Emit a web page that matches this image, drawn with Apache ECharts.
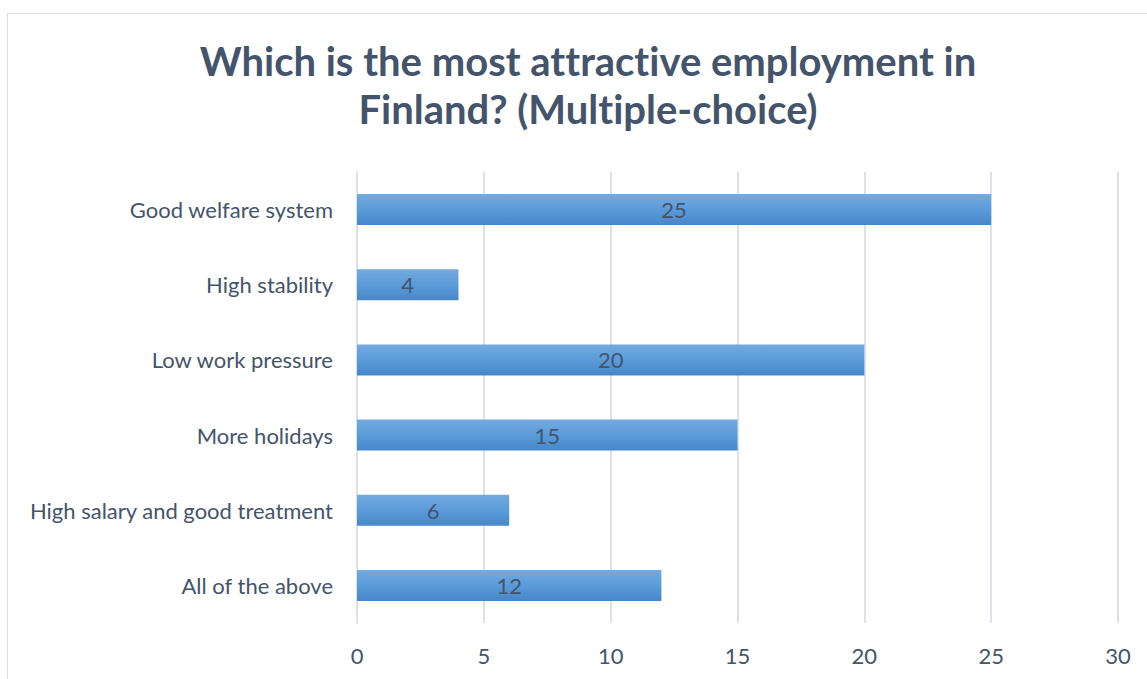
<!DOCTYPE html>
<html>
<head>
<meta charset="utf-8">
<script src="https://cdn.jsdelivr.net/npm/echarts@6/dist/echarts.min.js"></script>
<style>
  html, body { margin: 0; padding: 0; background: #ffffff; }
  #frame { position: absolute; left: 7px; top: 13px; width: 1160px; height: 700px; border: 1.5px solid #d9dee5; box-sizing: border-box; }
  #chart { position: absolute; left: 0; top: 0; width: 1147px; height: 679px; }
  #chart text { font-variant-ligatures: none; font-feature-settings: "liga" 0, "clig" 0; }
</style>
</head>
<body>
<div id="frame"></div>
<div id="chart"></div>
<script>
// Survey answers, listed bottom to top as the category axis draws them
const categories = [
  'All of the above',
  'High salary and good treatment',
  'More holidays',
  'Low work pressure',
  'High stability',
  'Good welfare system'
];
const counts = [12, 6, 15, 20, 4, 25];
const titleText = 'Which is the most attractive employment in\nFinland? (Multiple-choice)';

const textColor = '#44546a';
const font = 'Lato, "Open Sans", sans-serif';

const chart = echarts.init(document.getElementById('chart'), null, { renderer: 'svg' });
chart.setOption({
  backgroundColor: 'transparent',
  animation: false,
  title: {
    text: titleText,
    left: 583,
    top: 32,
    textAlign: 'center',
    textStyle: {
      fontFamily: font,
      fontWeight: 'bold',
      fontSize: 40,
      lineHeight: 48,
      color: textColor
    }
  },
  grid: { left: 357, right: 29, top: 172, bottom: 56, containLabel: false },
  xAxis: {
    type: 'value',
    min: 0,
    max: 30,
    interval: 5,
    axisLine: { show: false },
    axisTick: { show: false },
    axisLabel: { color: textColor, fontFamily: font, fontSize: 22, margin: 21 },
    splitLine: { lineStyle: { color: '#dde2ea', width: 2 } }
  },
  yAxis: {
    type: 'category',
    data: categories,
    axisLine: { show: true, lineStyle: { color: '#dde2ea', width: 2 } },
    axisTick: { show: false },
    axisLabel: { color: textColor, fontFamily: font, fontSize: 22, margin: 24 }
  },
  series: [{
    type: 'bar',
    data: counts,
    barWidth: 31,
    itemStyle: {
      color: new echarts.graphic.LinearGradient(0, 0, 0, 1, [
        { offset: 0, color: '#74aae0' },
        { offset: 0.5, color: '#5b9bd9' },
        { offset: 1, color: '#4787c8' }
      ])
    },
    label: {
      show: true,
      position: 'inside',
      color: textColor,
      fontFamily: font,
      fontSize: 22
    }
  }]
});
</script>
</body>
</html>
